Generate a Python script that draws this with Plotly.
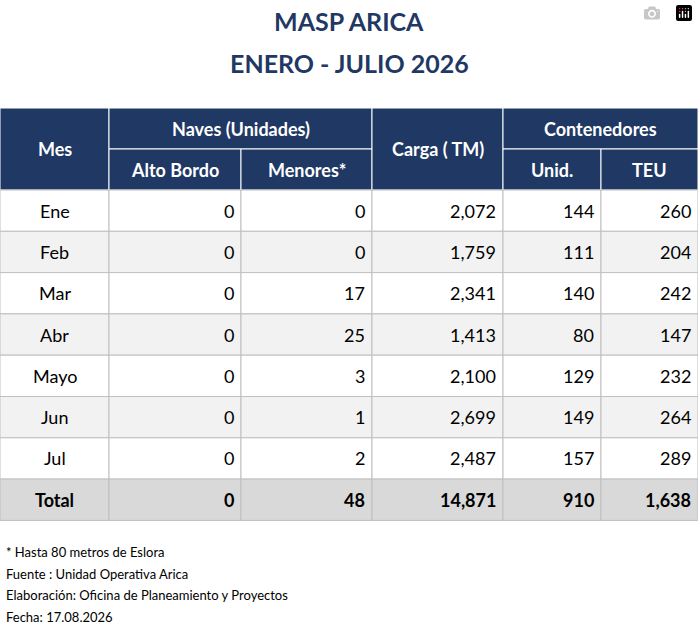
import plotly.graph_objects as go

meses = ["Ene", "Feb", "Mar", "Abr", "Mayo", "Jun", "Jul"]
alto_bordo = [0, 0, 0, 0, 0, 0, 0]
menores = [0, 0, 17, 25, 3, 1, 2]
carga = [2072, 1759, 2341, 1413, 2100, 2699, 2487]
unid = [144, 111, 140, 80, 129, 149, 157]
teu = [260, 204, 242, 147, 232, 264, 289]
notas = ["* Hasta 80 metros de Eslora",
         "Fuente : Unidad Operativa Arica",
         "Elaboración: Oficina de Planeamiento y Proyectos",
         "Fecha: 17.08.2026"]

NAVY = "#1F3864"
FONT = "Lato"
cols = [0, 109, 241, 372, 503, 601, 698]
top, hrow, row = 108, 41, 41.3

fig = go.Figure()
shapes, ann = [], []

def cell(x0, x1, y0, y1, fill, line):
    shapes.append(dict(type="rect", x0=x0, x1=x1, y0=y0, y1=y1, fillcolor=fill,
                       line=dict(color=line, width=1), layer="below"))

def text(x, y, s, anchor="center", size=18, color="black", bold=False):
    ann.append(dict(x=x, y=y, text=f"<b>{s}</b>" if bold else s, showarrow=False,
                    xanchor=anchor, yanchor="middle",
                    font=dict(family=FONT, size=size, color=color)))

# header
h1, h2, h3 = top, top + hrow, top + 2 * hrow
hdr = [(0, 1, h1, h3, "Mes"), (1, 3, h1, h2, "Naves (Unidades)"),
       (1, 2, h2, h3, "Alto Bordo"), (2, 3, h2, h3, "Menores*"),
       (3, 4, h1, h3, "Carga ( TM)"), (4, 6, h1, h2, "Contenedores"),
       (4, 5, h2, h3, "Unid."), (5, 6, h2, h3, "TEU")]
for a, b, y0, y1, s in hdr:
    cell(cols[a], cols[b], y0, y1, NAVY, "white")
    text((cols[a] + cols[b]) / 2, (y0 + y1) / 2, s, color="white", bold=True)

# body
rows = [[m, str(a), str(n), f"{c:,}", str(u), str(t)]
        for m, a, n, c, u, t in zip(meses, alto_bordo, menores, carga, unid, teu)]
rows.append(["Total", str(sum(alto_bordo)), str(sum(menores)), f"{sum(carga):,}",
             f"{sum(unid):,}", f"{sum(teu):,}"])
for i, r in enumerate(rows):
    y0 = h3 + i * row
    y1 = y0 + row
    total = i == len(rows) - 1
    fill = "#D9D9D9" if total else ("#F2F2F2" if i % 2 == 1 else "white")
    for j, s in enumerate(r):
        cell(cols[j], cols[j + 1], y0, y1, fill, "#BFBFBF")
        if j == 0:
            text((cols[0] + cols[1]) / 2, (y0 + y1) / 2, s, bold=total)
        else:
            text(cols[j + 1] - 5, (y0 + y1) / 2, s, anchor="right", bold=total)

# titles
text(349, 21, "MASP ARICA", size=25, color=NAVY, bold=True)
text(349, 63, "ENERO - JULIO 2026", size=25, color=NAVY, bold=True)

for k, s in enumerate(notas):
    text(4, 552 + k * 21.7, s, anchor="left", size=13)

fig.update_layout(width=698, height=628, margin=dict(l=0, r=0, t=0, b=0),
                  plot_bgcolor="white", paper_bgcolor="white",
                  shapes=shapes, annotations=ann, showlegend=False,
                  xaxis=dict(range=[0, 698], visible=False, fixedrange=True),
                  yaxis=dict(range=[628, 0], visible=False, fixedrange=True))
fig.write_html("out.html",
               post_script="document.body.style.margin='0';document.body.style.overflow='hidden';")
